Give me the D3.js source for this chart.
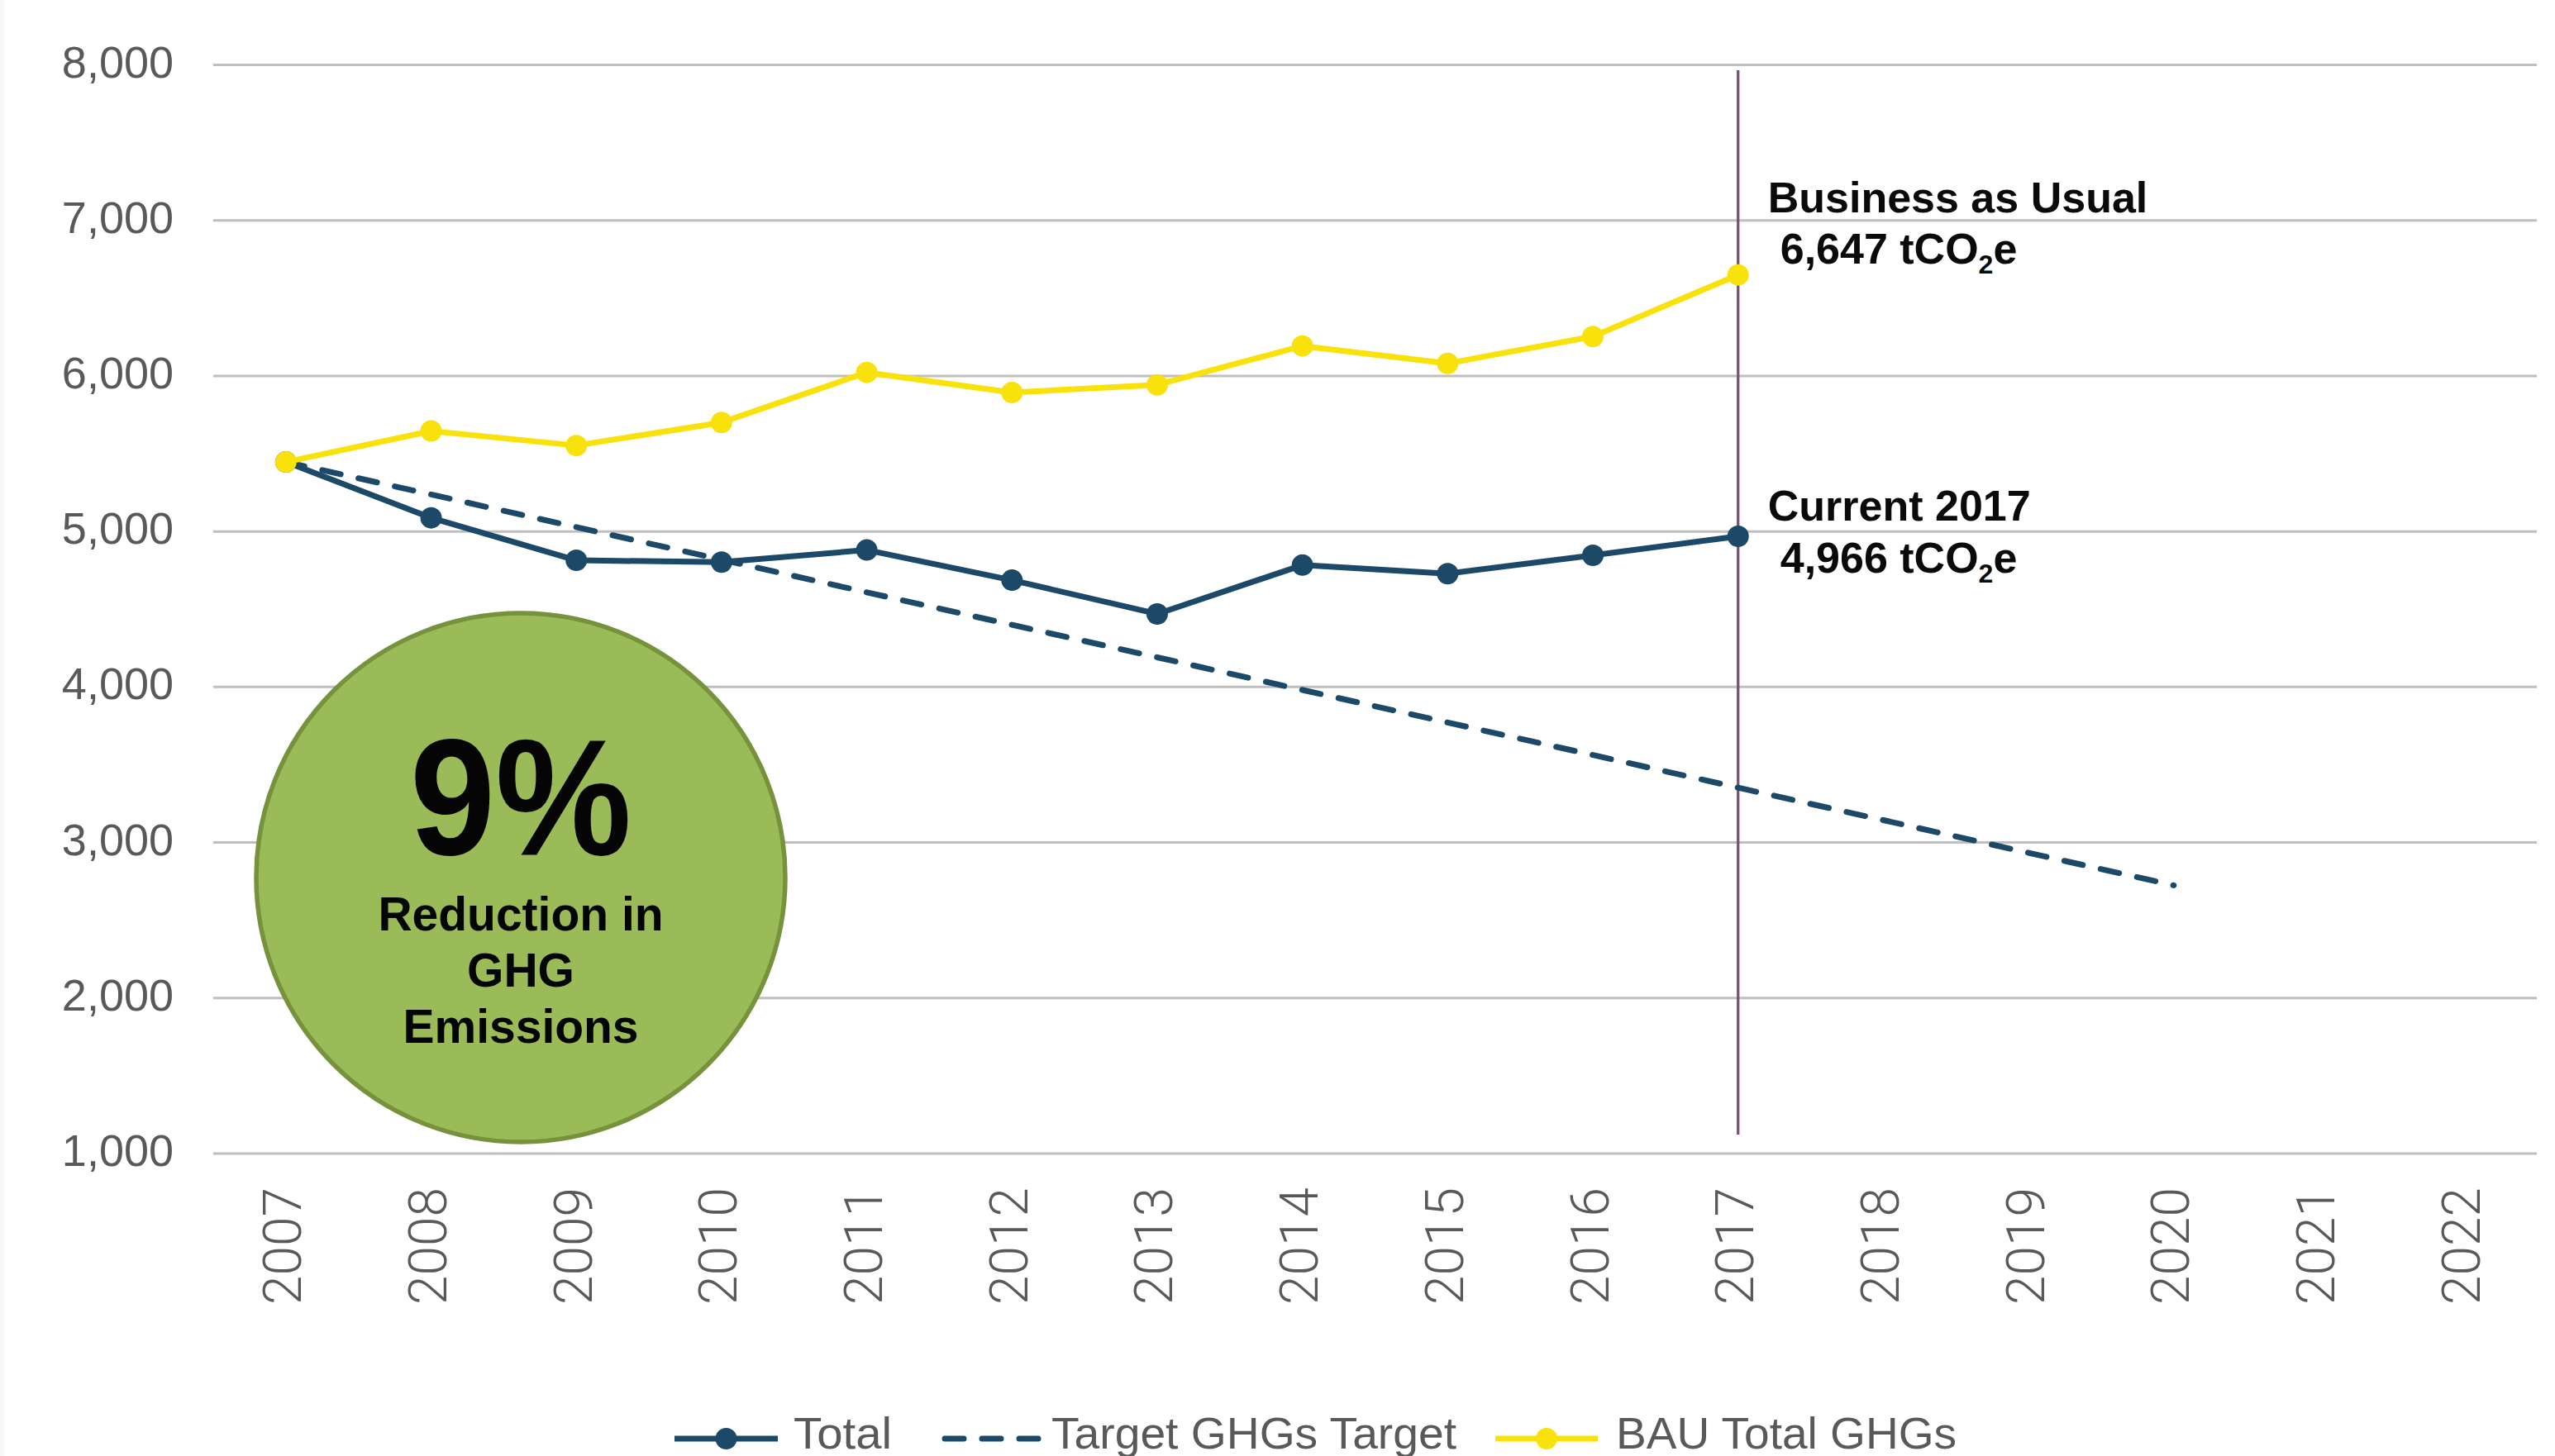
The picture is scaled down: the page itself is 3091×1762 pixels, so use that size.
<!DOCTYPE html>
<html>
<head>
<meta charset="utf-8">
<script src="https://cdn.jsdelivr.net/npm/d3@7/dist/d3.min.js"></script>
<style>
  html, body { margin: 0; padding: 0; background: #ffffff; }
  svg { display: block; }
</style>
</head>
<body>
<div id="chart"></div>
<script>
// Years on the category axis
const years = ["2007","2008","2009","2010","2011","2012","2013","2014","2015","2016","2017","2018","2019","2020","2021","2022"];

// Measured total emissions (tCO2e), 2007–2017
const totalGHG = [5444, 5085, 4812, 4800, 4878, 4684, 4467, 4781, 4726, 4844, 4966];

// Target trajectory (tCO2e), 2007–2020
const targetGHG = [5444, 5235, 5025, 4816, 4606, 4397, 4188, 3978, 3769, 3560, 3350, 3141, 2931, 2722];

// Business-as-usual emissions (tCO2e), 2007–2017
const bauGHG = [5444, 5643, 5550, 5698, 6020, 5891, 5940, 6190, 6078, 6251, 6647];

// Value-axis ticks
const yTicks = [1000, 2000, 3000, 4000, 5000, 6000, 7000, 8000];

// Legend entries
const legendNames = ["Total", "Target GHGs Target", "BAU Total GHGs"];

// Headline figure inside the badge
const reductionPct = "9%";
const reductionLines = ["Reduction in", "GHG", "Emissions"];

const W = 3091, H = 1762;
const C = {
  total: "#1b4967",
  bau: "#f9e20b",
  grid: "#bfbfbf",
  axisText: "#595959",
  marker: "#7f4f78",
  badgeFill: "#9bbb59",
  badgeStroke: "#76923c"
};

const svg = d3.select("#chart").append("svg")
  .attr("width", W).attr("height", H)
  .attr("viewBox", `0 0 ${W} ${H}`);

svg.append("rect").attr("width", W).attr("height", H).attr("fill", "#ffffff");
svg.append("rect").attr("x", 0).attr("y", 0).attr("width", 5).attr("height", H).attr("fill", "#f6f6f6");

const plot = { left: 258, right: 3069, top: 78, bottom: 1395.5 };

const x = d3.scaleBand().domain(years).range([plot.left, plot.right]).paddingInner(0).paddingOuter(0);
const xc = d => x(d) + x.bandwidth() / 2;
const y = d3.scaleLinear().domain([1000, 8000]).range([plot.bottom, plot.top]);

// Horizontal gridlines
const gridAxis = d3.axisLeft(y).tickValues(yTicks).tickSize(-(plot.right - plot.left)).tickFormat("");
const gridG = svg.append("g").attr("transform", `translate(${plot.left},0)`).call(gridAxis);
gridG.select(".domain").remove();
gridG.selectAll(".tick line").attr("stroke", C.grid).attr("stroke-width", 3);

// Value-axis labels
const yAxis = d3.axisLeft(y).tickValues(yTicks).tickSize(0).tickPadding(0).tickFormat(d3.format(","));
const yG = svg.append("g").attr("transform", `translate(210,0)`).call(yAxis);
yG.select(".domain").remove();
yG.selectAll(".tick text")
  .attr("font-family", "'Liberation Sans', Arial, sans-serif")
  .attr("font-size", 54)
  .attr("fill", C.axisText)
  .attr("text-anchor", "end")
  .attr("dy", 15)
  .attr("x", 0);

// Category-axis labels (rotated)
const xAxis = d3.axisBottom(x).tickSize(0).tickPadding(0);
const xG = svg.append("g").attr("transform", `translate(0,0)`).call(xAxis);
xG.select(".domain").remove();
xG.selectAll(".tick text")
  .attr("font-family", "Roboto, 'Liberation Sans', sans-serif")
  .attr("font-weight", 300)
  .attr("font-size", 64)
  .attr("fill", C.axisText)
  .attr("text-anchor", "end")
  .attr("transform", "translate(-2,1437) rotate(-90)")
  .attr("x", 0)
  .attr("y", 0)
  .attr("dy", "0.32em");

// Vertical marker at the current year
svg.append("line")
  .attr("x1", xc("2017")).attr("x2", xc("2017"))
  .attr("y1", 85).attr("y2", 1373)
  .attr("stroke", C.marker).attr("stroke-width", 3.3);

const line = d3.line().x(d => xc(d.year)).y(d => y(d.value));
const toPoints = arr => arr.map((v, i) => ({ year: years[i], value: v }));

const totalPts = toPoints(totalGHG);
const targetPts = toPoints(targetGHG);
const bauPts = toPoints(bauGHG);

// Total series
svg.append("path").datum(totalPts).attr("d", line)
  .attr("fill", "none").attr("stroke", C.total).attr("stroke-width", 7)
  .attr("stroke-linejoin", "round");
svg.append("g").selectAll("circle").data(totalPts).join("circle")
  .attr("cx", d => xc(d.year)).attr("cy", d => y(d.value)).attr("r", 13)
  .attr("fill", C.total);

// Target series (dashed)
svg.append("path").datum(targetPts).attr("d", line)
  .attr("fill", "none").attr("stroke", C.total).attr("stroke-width", 7)
  .attr("stroke-linecap", "round").attr("stroke-dasharray", "23,22");

// BAU series
svg.append("path").datum(bauPts).attr("d", line)
  .attr("fill", "none").attr("stroke", C.bau).attr("stroke-width", 7)
  .attr("stroke-linejoin", "round");
svg.append("g").selectAll("circle").data(bauPts).join("circle")
  .attr("cx", d => xc(d.year)).attr("cy", d => y(d.value)).attr("r", 13)
  .attr("fill", C.bau);

// End-of-series annotations
const fmt = d3.format(",");
const annX = xc("2017") + 36;
const boldFont = "'Liberation Sans', Arial, sans-serif";

function valueLabel(xPos, yPos, value) {
  const t = svg.append("text")
    .attr("x", xPos).attr("y", yPos)
    .attr("font-family", boldFont).attr("font-weight", "bold")
    .attr("font-size", 52).attr("fill", "#0a0a0a");
  t.append("tspan").text(`${fmt(value)} tCO`);
  t.append("tspan").attr("font-size", 32).attr("dy", 12).text("2");
  t.append("tspan").attr("font-size", 52).attr("dy", -12).text("e");
}

const bauLast = bauGHG[bauGHG.length - 1];
const totalLast = totalGHG[totalGHG.length - 1];

svg.append("text")
  .attr("x", annX).attr("y", y(bauLast) - 76)
  .attr("font-family", boldFont).attr("font-weight", "bold")
  .attr("font-size", 52).attr("fill", "#0a0a0a")
  .text("Business as Usual");
valueLabel(annX + 15, y(bauLast) - 14, bauLast);

svg.append("text")
  .attr("x", annX).attr("y", y(totalLast) - 19)
  .attr("font-family", boldFont).attr("font-weight", "bold")
  .attr("font-size", 52).attr("fill", "#0a0a0a")
  .text("Current 2017");
valueLabel(annX + 15, y(totalLast) + 44, totalLast);

// Reduction badge
const badge = { cx: 630, cy: 1062, r: 320 };
svg.append("circle")
  .attr("cx", badge.cx).attr("cy", badge.cy).attr("r", badge.r)
  .attr("fill", C.badgeFill).attr("stroke", C.badgeStroke).attr("stroke-width", 5.5);
svg.append("text")
  .attr("x", badge.cx).attr("y", 1034)
  .attr("text-anchor", "middle")
  .attr("font-family", boldFont).attr("font-weight", "bold")
  .attr("font-size", 200).attr("fill", "#050505")
  .attr("textLength", 268).attr("lengthAdjust", "spacingAndGlyphs")
  .text(reductionPct);
const lineYs = [1126, 1194, 1262];
reductionLines.forEach((s, i) => {
  svg.append("text")
    .attr("x", badge.cx).attr("y", lineYs[i])
    .attr("text-anchor", "middle")
    .attr("font-family", boldFont).attr("font-weight", "bold")
    .attr("font-size", 57).attr("fill", "#050505")
    .text(s);
});

// Legend
const legendY = 1741;
const legendItems = [
  { name: legendNames[0], x0: 816, x1: 941, tx: 960, tw: 119, color: C.total, dash: null, marker: true },
  { name: legendNames[1], x0: 1143, x1: 1260, tx: 1272, tw: 490, color: C.total, dash: "23,22", marker: false },
  { name: legendNames[2], x0: 1809, x1: 1933, tx: 1955, tw: 412, color: C.bau, dash: null, marker: true }
];
const lg = svg.append("g");
legendItems.forEach(it => {
  const l = lg.append("line")
    .attr("x1", it.x0).attr("x2", it.x1).attr("y1", legendY).attr("y2", legendY)
    .attr("stroke", it.color).attr("stroke-width", 7);
  if (it.dash) l.attr("stroke-dasharray", it.dash).attr("stroke-linecap", "round");
  if (it.marker) {
    lg.append("circle").attr("cx", (it.x0 + it.x1) / 2).attr("cy", legendY).attr("r", 13).attr("fill", it.color);
  }
  lg.append("text")
    .attr("x", it.tx).attr("y", 1753)
    .attr("font-family", "'Liberation Sans', Arial, sans-serif")
    .attr("font-size", 53).attr("fill", C.axisText)
    .attr("textLength", it.tw).attr("lengthAdjust", "spacingAndGlyphs")
    .text(it.name);
});
</script>
</body>
</html>
